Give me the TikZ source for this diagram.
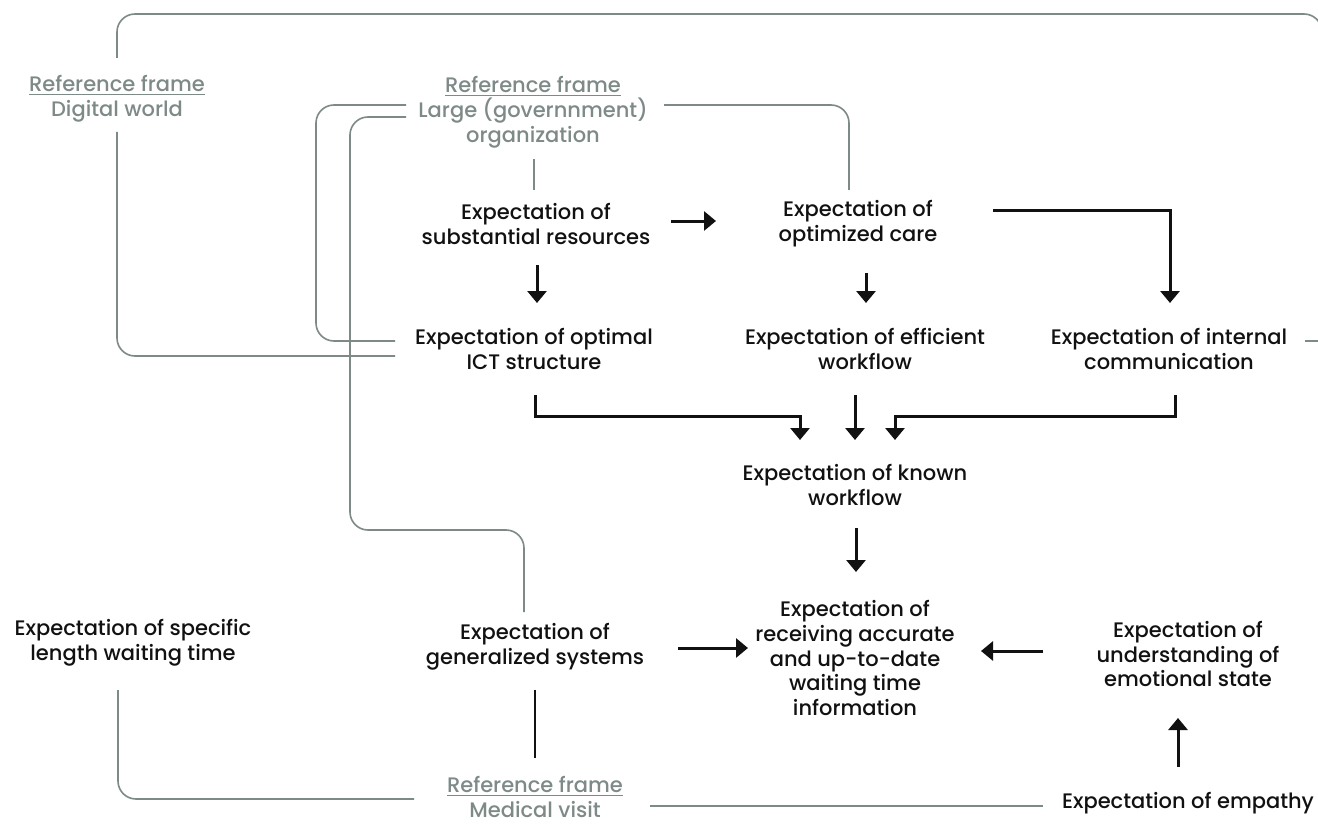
\documentclass[tikz,border=0pt]{standalone}
\usepackage{fontspec}
\setmainfont{Poppins Medium}
\usetikzlibrary{calc,arrows.meta}
\definecolor{fg}{HTML}{7E8A88}
\definecolor{ink}{HTML}{111111}
\begin{document}
\begin{tikzpicture}[x=0.5pt,y=-0.5pt,
  lbl/.style={align=center,inner sep=0pt,text=ink,font=\fontsize{10.5}{12.4}\selectfont},
  frame/.style={lbl,text=fg},
  arr/.style={draw=ink,line width=1.5pt,-{Triangle[width=9.5pt,length=6pt]}},
  blk/.style={draw=ink,line width=0.8pt},
  gl/.style={draw=fg,line width=0.8pt,rounded corners=9pt}]
\useasboundingbox (0,0) rectangle (1318,824);
% frames
\node[frame] (rfd) at (117,99) {\underline{Reference frame}\\Digital world};
\node[frame] (rfl) at (533,112) {\underline{Reference frame}\\Large (governnment)\\organization};
\node[frame] (rfm) at (535,797) {\underline{Reference frame}\\Medical visit};
% expectations
\node[lbl] (sub) at (536,224) {Expectation of\\substantial resources};
\node[lbl] (opt) at (858,224) {Expectation of\\optimized care};
\node[lbl] (ict) at (534,349) {Expectation of optimal\\ICT structure};
\node[lbl] (eff) at (865,349) {Expectation of efficient\\workflow};
\node[lbl] (int) at (1169,349) {Expectation of internal\\communication};
\node[lbl] (known) at (855,485) {Expectation of known\\workflow};
\node[lbl] (recv) at (855,658) {Expectation of\\receiving accurate\\and up-to-date\\waiting time\\information};
\node[lbl] (gen) at (535,647) {Expectation of\\generalized systems};
\node[lbl] (spec) at (133,643) {Expectation of specific\\length waiting time};
\node[lbl] (und) at (1188,654) {Expectation of\\understanding of\\emotional state};
\node[lbl] (emp) at (1188,803) {Expectation of empathy};
\coordinate (tr) at (1322,14);
% black arrows
\draw[arr] ($(sub)+(135,-3)$) -- ($(opt)+(-142,-3)$);
\draw[arr] ($(sub)+(1,41)$) -- ($(ict)+(3,-46)$);
\draw[arr] ($(opt)+(8,49)$) -- ($(eff)+(1,-46)$);
\draw[arr] ($(opt)+(135,-14)$) -| ($(int)+(1,-46)$);
\draw[arr] ($(ict)+(1,46)$) -- ++(0,21) -| ($(known)+(-55,-45)$);
\draw[arr] ($(eff)+(-10,46)$) -- ($(known)+(0,-45)$);
\draw[arr] ($(int)+(6,46)$) -- ++(0,21) -| ($(known)+(40,-45)$);
\draw[arr] ($(known)+(1,43)$) -- ($(recv)+(1,-86)$);
\draw[arr] ($(gen)+(143,1)$) -- ($(recv)+(-107,-10)$);
\draw[arr] ($(und)+(-145,-3)$) -- ($(recv)+(126,-7)$);
\draw[arr] ($(emp)+(-10,-36)$) -- ($(und)+(-10,64)$);
\draw[blk] ($(gen)+(0,43)$) -- ($(rfm)+(0,-39)$);
% gray frame lines
\draw[gl] ($(rfd)+(0,-41)$) |- (tr) [sharp corners] |- ($(int)+(136,-8)$);
\draw[gl] ($(rfd)+(0,33)$) |- ($(ict)+(-139,7)$);
\draw[gl] ($(rfl)+(-127,-7)$) -- ++(-90,0) |- ($(ict)+(-139,-8)$);
\draw[gl] ($(rfl)+(-127,5)$) -- ++(-56,0) -- ++(0,413) -| ($(gen)+(-11,-35)$);
\draw[gl] ($(rfl)+(131,-7)$) -| ($(opt)+(-9,-34)$);
\draw[gl] ($(rfl)+(1,47)$) -- ($(sub)+(-2,-34)$);
\draw[gl] ($(spec)+(-15,47)$) |- ($(rfm)+(-121,2)$);
\draw[gl] ($(rfm)+(115,9)$) -- ($(emp)+(-145,3)$);
\end{tikzpicture}
\end{document}
